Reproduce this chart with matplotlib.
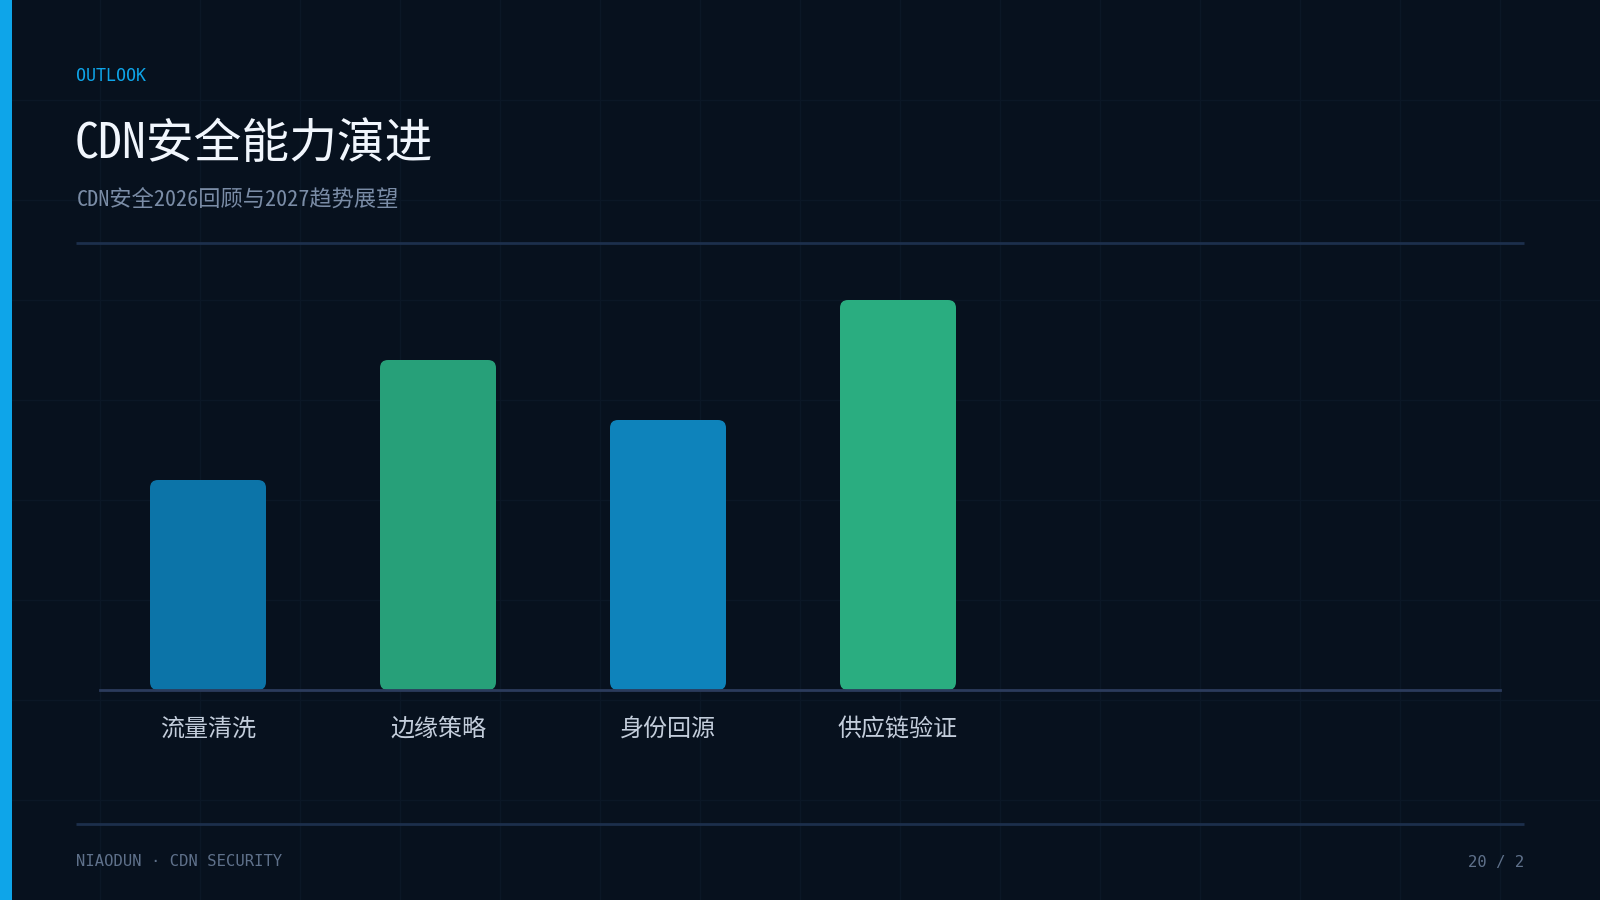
import numpy as np
import matplotlib.pyplot as plt
from matplotlib.patches import FancyBboxPatch, Rectangle

plt.rcParams['font.family'] = ['Noto Sans CJK SC', 'DejaVu Sans']
head_font = ['Noto Sans Mono CJK SC', 'Liberation Sans Narrow', 'Noto Sans CJK SC', 'DejaVu Sans']

# data
categories = ['流量清洗', '边缘策略', '身份回源', '供应链验证']
values = [35, 55, 45, 65]
bar_colors = ['#0c74a8', '#27a079', '#0e83bb', '#2aad80']

kicker = 'OUTLOOK'
title = 'CDN安全能力演进'
subtitle = 'CDN安全2026回顾与2027趋势展望'
footer_left = 'NIAODUN · CDN SECURITY'
footer_right = '20 / 2'

W, H = 1600, 900
BG = '#07111e'

fig = plt.figure(figsize=(16, 9), dpi=100, facecolor=BG)

# background layer in pixel coords
bg = fig.add_axes([0, 0, 1, 1])
bg.set_xlim(0, W)
bg.set_ylim(H, 0)
bg.axis('off')
bg.set_facecolor(BG)
for gx in range(100, W, 100):
    bg.axvline(gx, color='#0b1726', lw=1, zorder=0)
for gy in range(100, H, 100):
    bg.axhline(gy, color='#0b1726', lw=1, zorder=0)
bg.add_patch(Rectangle((0, 0), 12, H, color='#0ea5e9', lw=0, zorder=2))

bg.text(76, 76, kicker, color='#0ea5e9', fontsize=12, va='center',
        family=['DejaVu Sans Mono'])
bg.text(75, 144, title, color='#f1f6fd', fontsize=34.4, va='center', family=head_font)
bg.text(77, 201, subtitle, color='#7a8ca6', fontsize=16, va='center', family=head_font)
bg.plot([76, 1524], [243, 243], color='#1c2f4c', lw=2, solid_capstyle='butt')
bg.plot([76, 1524], [824, 824], color='#1c2f4c', lw=2, solid_capstyle='butt')
bg.text(76, 862, footer_left, color='#5f718b', fontsize=11.2, va='center',
        family=['DejaVu Sans Mono'])
bg.text(1524, 862, footer_right, color='#5f718b', fontsize=11.2, va='center',
        ha='right', family=['DejaVu Sans Mono'])

# chart
ax_left, ax_right = 100, 1500
ax_bottom, ax_top = 690, 260
ax = fig.add_axes([ax_left / W, 1 - ax_bottom / H,
                   (ax_right - ax_left) / W, (ax_bottom - ax_top) / H])
ax.patch.set_alpha(0)
x = np.arange(len(categories))
step_px = 230
x0_px = 208
xlim = ((ax_left - x0_px) / step_px, (ax_right - x0_px) / step_px)
ylim = (0, (ax_bottom - ax_top) / 6.0)
ax.set_xlim(*xlim)
ax.set_ylim(*ylim)

bars = ax.bar(x, values, width=116 / step_px, color=bar_colors)
xupp = (xlim[1] - xlim[0]) / (ax_right - ax_left)
yupp = (ylim[1] - ylim[0]) / (ax_bottom - ax_top)
r_px = 8
for rect in bars:
    rect.set_visible(False)
    ax.add_patch(FancyBboxPatch(
        (rect.get_x(), rect.get_y()), rect.get_width(), rect.get_height(),
        boxstyle=f'round,pad=0,rounding_size={r_px * xupp}',
        mutation_aspect=yupp / xupp,
        facecolor=rect.get_facecolor(), edgecolor='none', zorder=2))

for s in ['top', 'right', 'left']:
    ax.spines[s].set_visible(False)
ax.spines['bottom'].set_color('#2b3b5c')
ax.spines['bottom'].set_linewidth(2)
ax.spines['bottom'].set_zorder(3)
ax.set_yticks([])
ax.set_xticks(x, categories)
ax.tick_params(axis='x', length=0, pad=18.5, labelsize=17.3, labelcolor='#c3cddb')

fig.savefig('out.png', dpi=100, facecolor=BG)
